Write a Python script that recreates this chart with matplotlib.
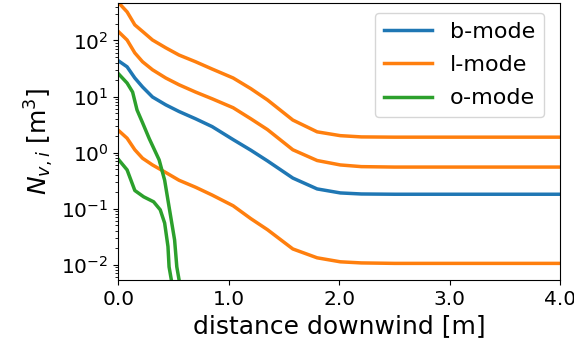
import matplotlib
matplotlib.use("Agg")
import matplotlib.pyplot as plt

# distance downwind [m]
x_main = [0.0, 0.08, 0.15, 0.22, 0.31, 0.43, 0.55, 0.70, 0.85, 1.04, 1.2,
          1.35, 1.58, 1.80, 2.01, 2.2, 2.5, 4.0]

# number of vortices per mode [m^3]
b_mode = [43.6, 33.9, 21.4, 14.8, 9.8, 7.1, 5.4, 4.0, 2.9, 1.7, 1.1,
          0.71, 0.35, 0.224, 0.19, 0.182, 0.18, 0.18]
l_mode_1 = [479, 324, 190, 145, 102, 74, 55, 41.7, 30.9, 21.4, 13.8,
            8.7, 3.8, 2.34, 2.0, 1.9, 1.88, 1.88]
l_mode_2 = [145, 102, 60, 41.7, 30, 21.4, 16.2, 12.0, 9.1, 6.3, 4.0,
            2.57, 1.12, 0.72, 0.60, 0.56, 0.55, 0.55]
l_mode_3 = [2.5, 1.8, 1.12, 0.79, 0.60, 0.44, 0.32, 0.24, 0.174, 0.112, 0.066,
            0.042, 0.019, 0.0132, 0.0112, 0.0107, 0.0105, 0.0105]

x_o1 = [0.0, 0.08, 0.13, 0.17, 0.22, 0.28, 0.37, 0.42, 0.46, 0.51, 0.53, 0.55, 0.56]
o_mode_1 = [25.7, 17.4, 12.0, 5.75, 3.4, 1.78, 0.74, 0.32, 0.107, 0.0275, 0.0091, 0.0054, 0.004]
x_o2 = [0.0, 0.08, 0.15, 0.23, 0.32, 0.38, 0.42, 0.45, 0.46, 0.48, 0.49]
o_mode_2 = [0.76, 0.49, 0.21, 0.162, 0.132, 0.095, 0.055, 0.021, 0.0091, 0.0054, 0.004]

blue = "#1f77b4"
orange = "#ff7f0e"
green = "#2ca02c"

plt.rcParams["font.size"] = 15
fig, ax = plt.subplots(figsize=(5.74, 3.54), dpi=100)
fig.subplots_adjust(left=0.206, right=0.976, top=0.992, bottom=0.209)

lw = 2.5
ax.plot(x_main, b_mode, color=blue, lw=lw, label="b-mode")
ax.plot(x_main, l_mode_1, color=orange, lw=lw, label="l-mode")
ax.plot(x_main, l_mode_2, color=orange, lw=lw)
ax.plot(x_main, l_mode_3, color=orange, lw=lw)
ax.plot(x_o1, o_mode_1, color=green, lw=lw, label="o-mode")
ax.plot(x_o2, o_mode_2, color=green, lw=lw)

ax.set_yscale("log")
ax.set_xlim(0, 4)
ax.set_ylim(5.3e-3, 470)
ax.set_xticks([0, 1, 2, 3, 4])
ax.set_xticklabels(["0.0", "1.0", "2.0", "3.0", "4.0"])
ax.tick_params(labelsize=14.5)
ax.set_xlabel("distance downwind [m]", fontsize=18)
ax.set_ylabel(r"$N_{v,i}$ [m$^3$]", fontsize=18)
ax.legend(loc="upper right", bbox_to_anchor=(0.964, 0.964), borderaxespad=0,
          fontsize=16, handlelength=2.2, labelspacing=0.6)

plt.savefig("out.png", dpi=100)
plt.close()
